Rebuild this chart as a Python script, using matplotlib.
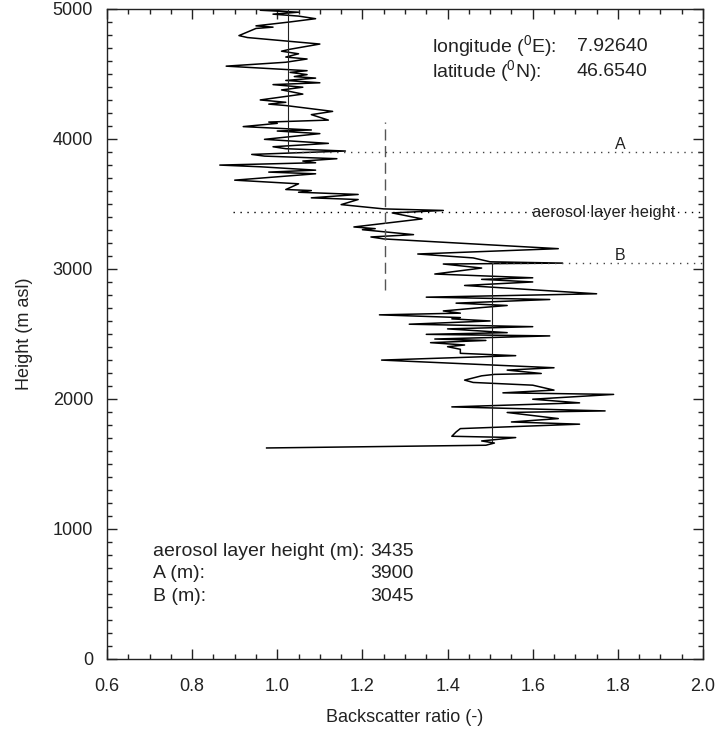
import matplotlib
matplotlib.use('Agg')
import matplotlib.pyplot as plt
from matplotlib.ticker import MultipleLocator

plt.rcParams['font.family'] = ['Liberation Sans', 'DejaVu Sans']
plt.rcParams['mathtext.fontset'] = 'custom'
plt.rcParams['mathtext.rm'] = 'Liberation Sans'
plt.rcParams['mathtext.it'] = 'Liberation Sans'

# backscatter ratio profile, top to bottom
height = [5000, 4990, 4975, 4960, 4945, 4925, 4900, 4870, 4860, 4850, 4795, 4780,
          4730, 4690, 4675, 4655, 4630, 4615, 4590, 4560, 4525, 4512, 4495, 4480,
          4468, 4450, 4432, 4418, 4398, 4377, 4365, 4345, 4300, 4282, 4268, 4257,
          4212, 4187, 4145, 4130, 4120, 4095, 4069, 4061, 4041, 3997, 3966, 3940,
          3925, 3907, 3881, 3868, 3848, 3830, 3817, 3799, 3786, 3760, 3745, 3732,
          3709, 3683, 3655, 3611, 3603, 3590, 3573, 3547, 3534, 3495, 3462, 3450,
          3431, 3385, 3323, 3310, 3302, 3264, 3246, 3231, 3156, 3115, 3085, 3055,
          3045, 3038, 3007, 2961, 2932, 2920, 2900, 2873, 2809, 2783, 2765, 2737,
          2719, 2703, 2677, 2660, 2647, 2626, 2616, 2600, 2575, 2556, 2539, 2510,
          2497, 2485, 2461, 2450, 2433, 2415, 2402, 2382, 2351, 2333, 2299, 2240,
          2222, 2196, 2189, 2178, 2145, 2127, 2106, 2068, 2047, 2035, 1998, 1970,
          1939, 1908, 1896, 1849, 1823, 1806, 1772, 1746, 1713, 1703, 1677, 1661,
          1644, 1623]
ratio = [1.05, 0.96, 1.05, 0.99, 1.05, 1.09, 1.03, 0.95, 0.99, 0.95, 0.91, 0.93,
         1.10, 1.03, 1.01, 1.05, 1.02, 1.07, 1.02, 0.88, 1.07, 1.03, 1.07, 1.04,
         1.09, 1.02, 1.10, 0.99, 1.06, 1.01, 1.03, 1.06, 0.96, 1.02, 0.98, 1.02,
         1.13, 1.08, 1.12, 0.98, 1.00, 0.92, 1.08, 1.00, 1.10, 0.97, 1.12, 0.99,
         1.02, 1.16, 0.94, 0.97, 1.14, 1.06, 1.09, 0.865, 0.96, 1.09, 0.98, 1.09,
         1.00, 0.90, 1.05, 1.02, 1.08, 1.05, 1.19, 1.08, 1.19, 1.15, 1.25, 1.39,
         1.27, 1.34, 1.18, 1.23, 1.20, 1.32, 1.22, 1.25, 1.66, 1.33, 1.46, 1.50,
         1.67, 1.39, 1.48, 1.37, 1.60, 1.48, 1.60, 1.44, 1.75, 1.35, 1.64, 1.42,
         1.54, 1.48, 1.39, 1.43, 1.24, 1.43, 1.41, 1.50, 1.31, 1.60, 1.40, 1.54,
         1.35, 1.64, 1.37, 1.49, 1.36, 1.44, 1.40, 1.43, 1.43, 1.56, 1.245, 1.65,
         1.54, 1.62, 1.51, 1.48, 1.44, 1.46, 1.60, 1.65, 1.53, 1.79, 1.60, 1.71,
         1.41, 1.77, 1.54, 1.66, 1.55, 1.71, 1.43, 1.42, 1.41, 1.56, 1.48, 1.51,
         1.49, 0.975]

# station and layer info
lon = '7.92640'
lat = '46.6540'
alh = 3435   # aerosol layer height (m)
h_a = 3900   # A (m)
h_b = 3045   # B (m)

# mean ratios above A and below B, and the threshold used for the layer
mean_top = 1.025
mean_bot = 1.505
thresh = 1.253
thresh_range = [2840, 4130]
alh_start = 0.897

fig = plt.figure(figsize=(7.17, 7.33), dpi=100)
ax = fig.add_axes([0.1492, 0.1010, 0.8313, 0.8868])

ax.plot(ratio, height, color='black', lw=1.1)

# mean lines
ax.plot([mean_top, mean_top], [h_a, 5000], color='#222222', lw=0.8)
ax.plot([mean_bot, mean_bot], [1680, h_b], color='#222222', lw=0.8)
ax.plot([thresh, thresh], thresh_range, color='#555555', lw=1.0, dashes=(8, 4))

# layer markers
dot = (0, (1, 4))
ax.plot([mean_top, 2.0], [h_a, h_a], color='#444444', lw=1.0, linestyle=dot)
ax.plot([alh_start, 2.0], [alh, alh], color='black', lw=1.0, linestyle=dot)
ax.plot([mean_bot, 2.0], [h_b, h_b], color='#444444', lw=1.0, linestyle=dot)

txt = '#222222'
ax.text(1.805, h_a, 'A', ha='center', va='bottom', fontsize=11.5, color=txt)
ax.text(1.766, alh, 'aerosol layer height', ha='center', va='center', fontsize=11.8, color=txt)
ax.text(1.805, h_b, 'B', ha='center', va='bottom', fontsize=11.5, color=txt)

fs = 14
ax.text(1.363, 4712, r'longitude ($^0$E):', fontsize=fs, color=txt, va='center')
ax.text(1.363, 4522, r'latitude ($^0$N):', fontsize=fs, color=txt, va='center')
ax.text(1.704, 4712, lon, fontsize=fs, color=txt, va='center')
ax.text(1.704, 4522, lat, fontsize=fs, color=txt, va='center')

ax.text(0.707, 830, 'aerosol layer height (m):', fontsize=fs, color=txt, va='center')
ax.text(0.707, 655, 'A (m):', fontsize=fs, color=txt, va='center')
ax.text(0.707, 480, 'B (m):', fontsize=fs, color=txt, va='center')
ax.text(1.32, 830, str(alh), fontsize=fs, color=txt, va='center', ha='right')
ax.text(1.32, 655, str(h_a), fontsize=fs, color=txt, va='center', ha='right')
ax.text(1.32, 480, str(h_b), fontsize=fs, color=txt, va='center', ha='right')

ax.set_xlim(0.6, 2.0)
ax.set_ylim(0, 5000)
ax.xaxis.set_major_locator(MultipleLocator(0.2))
ax.xaxis.set_minor_locator(MultipleLocator(0.05))
ax.yaxis.set_major_locator(MultipleLocator(1000))
ax.yaxis.set_minor_locator(MultipleLocator(100))
ax.xaxis.set_major_formatter(plt.FormatStrFormatter('%.1f'))

ax.tick_params(which='both', direction='in', top=True, right=True, width=1.0,
               colors='#222222', labelsize=13)
ax.tick_params(which='major', length=7)
ax.tick_params(which='minor', length=3.6)
ax.tick_params(axis='x', which='major', pad=14)
ax.tick_params(axis='y', which='major', pad=10)
for s in ax.spines.values():
    s.set_linewidth(1.0)
    s.set_color('#222222')

ax.set_xlabel('Backscatter ratio (-)', fontsize=13, color=txt, labelpad=10)
ax.set_ylabel('Height (m asl)', fontsize=13, color=txt, labelpad=14)

fig.savefig('out.png', dpi=100)
